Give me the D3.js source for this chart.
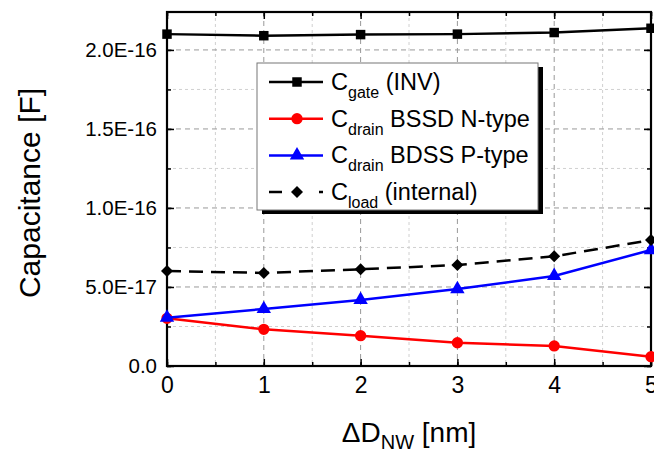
<!DOCTYPE html>
<html>
<head>
<meta charset="utf-8">
<script src="https://cdn.jsdelivr.net/npm/d3@7"></script>
<style>
  body { margin: 0; background: #fff; }
  svg { display: block; font-family: "Liberation Sans", Arial, sans-serif; }
</style>
</head>
<body>
<svg id="chart" width="654" height="455"></svg>
<script>
// data
const xValues = [0, 1, 2, 3, 4, 5];
const cGate = [2.10e-16, 2.09e-16, 2.097e-16, 2.10e-16, 2.11e-16, 2.137e-16];
const cDrainN = [3.02e-17, 2.32e-17, 1.92e-17, 1.47e-17, 1.27e-17, 0.59e-17];
const cDrainP = [3.06e-17, 3.61e-17, 4.18e-17, 4.87e-17, 5.70e-17, 7.34e-17];
const cLoad = [6.01e-17, 5.89e-17, 6.12e-17, 6.39e-17, 6.94e-17, 7.97e-17];
const yTicks = [0, 5e-17, 1e-16, 1.5e-16, 2e-16];
const yTickLabels = ["0.0", "5.0E-17", "1.0E-16", "1.5E-16", "2.0E-16"];

const series = [
  { main: "C", sub: "gate", rest: " (INV)", values: cGate, color: "#000", marker: "square", dash: null },
  { main: "C", sub: "drain", rest: " BSSD N-type", values: cDrainN, color: "#ff0000", marker: "circle", dash: null },
  { main: "C", sub: "drain", rest: " BDSS P-type", values: cDrainP, color: "#0000ff", marker: "triangle", dash: null },
  { main: "C", sub: "load", rest: " (internal)", values: cLoad, color: "#000", marker: "diamond", dash: "14,8" }
];

const svg = d3.select("#chart");
const pL = 167, pR = 651, pT = 12, pB = 366;

const x = d3.scaleLinear().domain([0, 5]).range([pL, pR]);
const y = d3.scaleLinear().domain([0, 2.24e-16]).range([pB, pT]);

// grid
const grid = svg.append("g");
const minorX = d3.range(0.5, 5, 1);
const minorY = d3.range(2.5e-17, 2.24e-16, 5e-17);
grid.selectAll(".gxm").data(minorX).join("line")
  .attr("x1", d => x(d)).attr("x2", d => x(d)).attr("y1", pT).attr("y2", pB)
  .attr("stroke", "#d0d0d0").attr("stroke-dasharray", "3,3");
grid.selectAll(".gym").data(minorY).join("line")
  .attr("y1", d => y(d)).attr("y2", d => y(d)).attr("x1", pL).attr("x2", pR)
  .attr("stroke", "#d0d0d0").attr("stroke-dasharray", "3,3");
grid.selectAll(".gx").data(xValues.slice(1, 5)).join("line")
  .attr("x1", d => x(d)).attr("x2", d => x(d)).attr("y1", pT).attr("y2", pB)
  .attr("stroke", "#999").attr("stroke-dasharray", "5,4");
grid.selectAll(".gy").data(yTicks.slice(1)).join("line")
  .attr("y1", d => y(d)).attr("y2", d => y(d)).attr("x1", pL).attr("x2", pR)
  .attr("stroke", "#999").attr("stroke-dasharray", "5,4");

// axes with inward ticks on all sides
const addAxis = (axis, tr) => {
  const g = svg.append("g").attr("transform", tr).call(axis);
  g.select(".domain").remove();
  g.selectAll("line").attr("stroke", "#000").attr("stroke-width", 1.5);
  return g;
};
const xMinorVals = d3.range(0, 5.01, 0.5);
const yMinorVals = d3.range(0, 2.24e-16, 2.5e-17);

addAxis(d3.axisBottom(x).tickValues(xMinorVals).tickSize(-4).tickFormat(""), `translate(0,${pB})`);
addAxis(d3.axisTop(x).tickValues(xMinorVals).tickSize(-4).tickFormat(""), `translate(0,${pT})`);
addAxis(d3.axisLeft(y).tickValues(yMinorVals).tickSize(-4).tickFormat(""), `translate(${pL},0)`);
addAxis(d3.axisRight(y).tickValues(yMinorVals).tickSize(-4).tickFormat(""), `translate(${pR},0)`);

const xAxis = addAxis(d3.axisBottom(x).tickValues(xValues).tickSize(-7).tickPadding(11).tickFormat(d3.format("d")), `translate(0,${pB})`);
xAxis.selectAll("text").attr("font-size", 23).attr("fill", "#000").attr("font-family", "Liberation Sans, Arial, sans-serif");
addAxis(d3.axisTop(x).tickValues(xValues).tickSize(-7).tickFormat(""), `translate(0,${pT})`);
const yAxis = addAxis(d3.axisLeft(y).tickValues(yTicks).tickSize(-7).tickPadding(10).tickFormat((d, i) => yTickLabels[i]), `translate(${pL},0)`);
yAxis.selectAll("text").attr("font-size", 20.5).attr("fill", "#000").attr("font-family", "Liberation Sans, Arial, sans-serif");
addAxis(d3.axisRight(y).tickValues(yTicks).tickSize(-7).tickFormat(""), `translate(${pR},0)`);

svg.append("rect")
  .attr("x", pL).attr("y", pT).attr("width", pR - pL).attr("height", pB - pT)
  .attr("fill", "none").attr("stroke", "#000").attr("stroke-width", 2.2);

// markers
const symbolFor = m => ({
  square: d3.symbol(d3.symbolSquare, 90),
  circle: d3.symbol(d3.symbolCircle, 100),
  triangle: d3.symbol(d3.symbolTriangle, 90),
  diamond: d3.symbol(d3.symbolSquare, 72)
})[m];
const rot = m => (m === "diamond" ? " rotate(45)" : "");

const line = d3.line().x((d, i) => x(xValues[i])).y(d => y(d));

series.forEach(s => {
  svg.append("path")
    .attr("d", line(s.values))
    .attr("fill", "none")
    .attr("stroke", s.color)
    .attr("stroke-width", 2.5)
    .attr("stroke-dasharray", s.dash);
  svg.append("g").selectAll("path").data(s.values).join("path")
    .attr("transform", (d, i) => `translate(${x(xValues[i])},${y(d)})${rot(s.marker)}`)
    .attr("d", symbolFor(s.marker)())
    .attr("fill", s.color);
});

// legend
const lg = svg.append("g").attr("transform", "translate(257,63)");
lg.append("rect").attr("x", 5).attr("y", 4).attr("width", 281).attr("height", 147).attr("fill", "#000");
lg.append("rect").attr("x", 0).attr("y", 0).attr("width", 281).attr("height", 147)
  .attr("fill", "#fff").attr("stroke", "#777").attr("stroke-width", 1);

series.forEach((s, i) => {
  const cy = 19 + i * 36.7;
  lg.append("line").attr("x1", 12).attr("x2", 66).attr("y1", cy).attr("y2", cy)
    .attr("stroke", s.color).attr("stroke-width", 2.5)
    .attr("stroke-dasharray", s.dash ? "13,37,5,100" : null);
  lg.append("path").attr("transform", `translate(40,${cy})${rot(s.marker)}`)
    .attr("d", symbolFor(s.marker)()).attr("fill", s.color);
  const t = lg.append("text").attr("x", 74).attr("y", cy + 8)
    .attr("font-size", 23.5).attr("fill", "#000");
  t.append("tspan").text(s.main);
  t.append("tspan").attr("font-size", 16).attr("dy", 8).text(s.sub);
  t.append("tspan").attr("dy", -8).text(s.rest);
});

// axis titles
svg.append("text")
  .attr("transform", `translate(40,${(pT + pB) / 2 + 4}) rotate(-90)`)
  .attr("text-anchor", "middle").attr("font-size", 30).attr("fill", "#000")
  .text("Capacitance [F]");

const xt = svg.append("text")
  .attr("x", (pL + pR) / 2).attr("y", 442)
  .attr("text-anchor", "middle").attr("font-size", 28).attr("fill", "#000");
xt.append("tspan").text("\u0394D");
xt.append("tspan").attr("font-size", 20).attr("dy", 7).text("NW");
xt.append("tspan").attr("dy", -7).text(" [nm]");
</script>
</body>
</html>
